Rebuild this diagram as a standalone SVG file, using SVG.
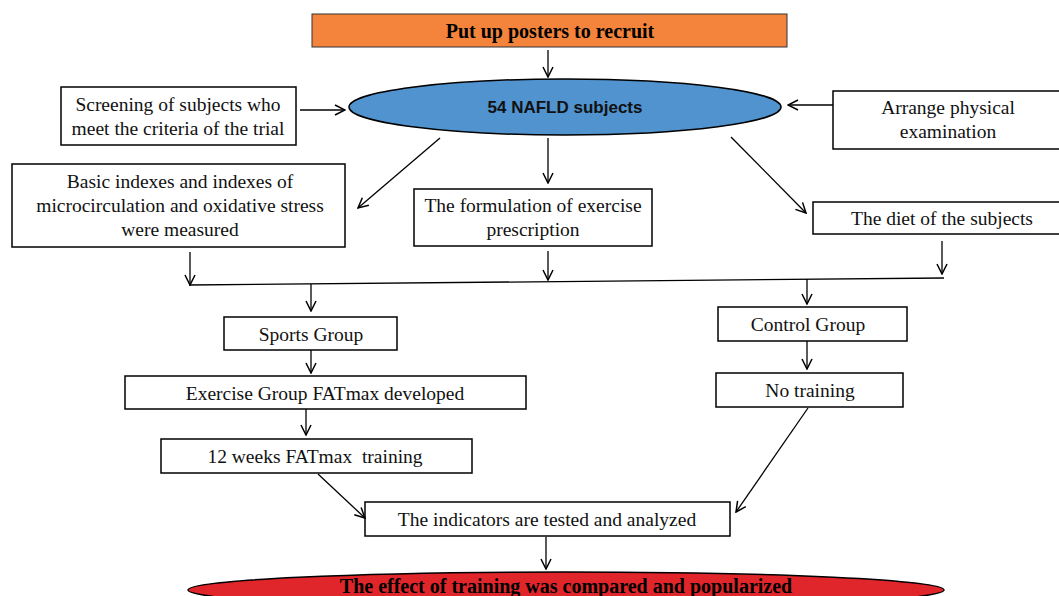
<svg xmlns="http://www.w3.org/2000/svg" width="1059" height="596" viewBox="0 0 1059 596">
<defs>
<marker id="ah" viewBox="0 0 12 12" refX="11" refY="6" markerWidth="12" markerHeight="12" markerUnits="userSpaceOnUse" orient="auto">
<path d="M1,1 L11,6 L1,11" fill="none" stroke="#000" stroke-width="1.5"/>
</marker>
<style>
.box{fill:#fff;stroke:#000;stroke-width:1.5}
.t{font-family:"Liberation Serif",serif;font-size:19.5px;fill:#111;text-anchor:middle;dominant-baseline:central}
.tb{font-family:"Liberation Serif",serif;font-size:20px;font-weight:bold;fill:#000;text-anchor:middle;dominant-baseline:central}
.c{fill:none;stroke:#000;stroke-width:1.3}
.ca{fill:none;stroke:#000;stroke-width:1.3;marker-end:url(#ah)}
</style>
</defs>
<rect width="1059" height="596" fill="#fff"/>

<g id="posters">
<rect x="312" y="14" width="475" height="33" fill="#F4843C" stroke="#333" stroke-width="1"/>
<text class="tb" x="550" y="31">Put up posters to recruit</text>
</g>
<g id="subjects">
<ellipse cx="565" cy="107" rx="216" ry="28" fill="#5093CF" stroke="#000" stroke-width="1.5"/>
<text x="565" y="107" style="font-family:'Liberation Sans',sans-serif;font-size:17px;font-weight:bold;fill:#111;text-anchor:middle;dominant-baseline:central">54 NAFLD subjects</text>
</g>
<g id="screening">
<rect class="box" x="61" y="87" width="235" height="58"/>
<text class="t" x="178" y="104">Screening of subjects who</text>
<text class="t" x="178" y="128">meet the criteria of the trial</text>
</g>
<g id="physical">
<rect class="box" x="833" y="91" width="230" height="58"/>
<text class="t" x="948" y="107">Arrange physical</text>
<text class="t" x="948" y="131">examination</text>
</g>
<g id="basic">
<rect class="box" x="12" y="164" width="333" height="83"/>
<text class="t" x="180" y="181">Basic indexes and indexes of</text>
<text class="t" x="180" y="205">microcirculation and oxidative stress</text>
<text class="t" x="180" y="229">were measured</text>
</g>
<g id="formulation">
<rect class="box" x="414" y="189" width="238" height="57"/>
<text class="t" x="533" y="205">The formulation of exercise</text>
<text class="t" x="533" y="229">prescription</text>
</g>
<g id="diet">
<rect class="box" x="813" y="202" width="250" height="32"/>
<text class="t" x="942" y="218">The diet of the subjects</text>
</g>
<g id="sports">
<rect class="box" x="224" y="317" width="173" height="33"/>
<text class="t" x="311" y="334">Sports Group</text>
</g>
<g id="exercise">
<rect class="box" x="125" y="376" width="401" height="33"/>
<text class="t" x="325" y="393">Exercise Group FATmax developed</text>
</g>
<g id="weeks">
<rect class="box" x="161" y="439" width="311" height="34"/>
<text class="t" x="315" y="456" xml:space="preserve">12 weeks FATmax  training</text>
</g>
<g id="control">
<rect class="box" x="718" y="307" width="189" height="34"/>
<text class="t" x="808" y="324">Control Group</text>
</g>
<g id="notraining">
<rect class="box" x="716" y="373" width="187" height="34"/>
<text class="t" x="810" y="390">No training</text>
</g>
<g id="indicators">
<rect class="box" x="365" y="502" width="365" height="34"/>
<text class="t" x="547" y="519">The indicators are tested and analyzed</text>
</g>
<g id="effect">
<ellipse cx="566" cy="590" rx="378" ry="18" fill="#E0262A" stroke="#000" stroke-width="1.5"/>
<text class="tb" x="566" y="586">The effect of training was compared and popularized</text>
</g>

<g id="connectors">
<line class="ca" x1="548" y1="50" x2="548" y2="77"/>
<line class="ca" x1="300" y1="110" x2="345" y2="110"/>
<line class="ca" x1="833" y1="105" x2="788" y2="105"/>
<line class="ca" x1="440" y1="138" x2="358" y2="208"/>
<line class="ca" x1="548" y1="138" x2="548" y2="183"/>
<line class="ca" x1="731" y1="137" x2="806" y2="213"/>
<line class="ca" x1="190" y1="252" x2="190" y2="285"/>
<line class="ca" x1="548" y1="251" x2="548" y2="280"/>
<line class="ca" x1="942" y1="241" x2="942" y2="274"/>
<line class="c" x1="189" y1="285" x2="944" y2="278"/>
<line class="ca" x1="311" y1="284" x2="311" y2="311"/>
<line class="ca" x1="807" y1="279" x2="807" y2="304"/>
<line class="ca" x1="311" y1="350" x2="311" y2="373"/>
<line class="ca" x1="807" y1="341" x2="807" y2="369"/>
<line class="ca" x1="306" y1="409" x2="306" y2="435"/>
<line class="ca" x1="318" y1="474" x2="365" y2="518"/>
<line class="ca" x1="808" y1="408" x2="736" y2="512"/>
<line class="ca" x1="546" y1="537" x2="546" y2="569"/>
</g>
</svg>
